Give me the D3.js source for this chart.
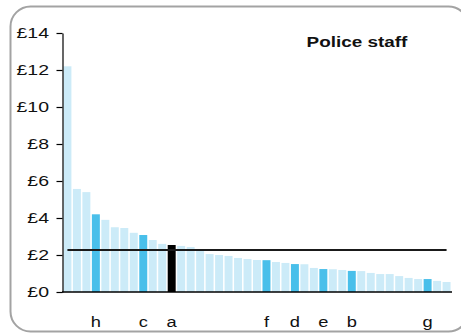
<!DOCTYPE html>
<html>
<head>
<meta charset="utf-8">
<script src="https://cdn.jsdelivr.net/npm/d3@7"></script>
<style>
  html, body { margin: 0; padding: 0; background: #fff; }
  svg { display: block; }
  text { font-family: Arial, "Liberation Sans", sans-serif; fill: #111; }
</style>
</head>
<body>
<svg id="chart" width="461" height="334"></svg>
<script>
// ---- data ----
const values = [12.2, 5.57, 5.4, 4.2, 3.9, 3.5, 3.46, 3.2, 3.08, 2.81, 2.6,
  2.54, 2.49, 2.43, 2.22, 2.05, 2.0, 1.95, 1.84, 1.78, 1.73, 1.72, 1.62, 1.57,
  1.51, 1.5, 1.3, 1.24, 1.23, 1.19, 1.14, 1.13, 1.03, 0.97, 0.97, 0.86, 0.76,
  0.7, 0.7, 0.6, 0.54];
const labels = ["", "", "", "h", "", "", "", "", "c", "", "", "a", "", "", "",
  "", "", "", "", "", "", "f", "", "", "d", "", "", "e", "", "", "b", "", "",
  "", "", "", "", "", "g", "", ""];
const highlightType = labels.map(l => l === "a" ? "focus" : (l ? "peer" : "other"));
const averageValue = [2.27];
const yTicks = [0, 2, 4, 6, 8, 10, 12, 14];
const title = "Police staff";

// ---- chart ----
const svg = d3.select("#chart");
const colors = { other: "#ccebf8", peer: "#49bfea", focus: "#000000" };

// frame
svg.append("rect")
  .attr("x", 10.5).attr("y", 6.5)
  .attr("width", 458).attr("height", 325)
  .attr("rx", 20).attr("ry", 20)
  .attr("fill", "none").attr("stroke", "#a3a3a3").attr("stroke-width", 2);

const x = d3.scaleBand()
  .domain(d3.range(values.length))
  .range([62.5, 451.5])
  .paddingInner(0.16)
  .paddingOuter(0.1);

const y = d3.scaleLinear().domain([0, 14]).range([292, 33]);

// bars
svg.append("g").selectAll("rect")
  .data(values)
  .join("rect")
  .attr("x", (d, i) => x(i))
  .attr("y", d => y(d))
  .attr("width", x.bandwidth())
  .attr("height", d => y(0) - y(d))
  .attr("fill", (d, i) => colors[highlightType[i]]);

// average line
svg.append("line")
  .attr("x1", x(0) + x.bandwidth() / 2)
  .attr("x2", x(values.length - 1) + x.bandwidth() / 2)
  .attr("y1", y(averageValue[0]))
  .attr("y2", y(averageValue[0]))
  .attr("stroke", "#1a1a1a").attr("stroke-width", 2);

// y axis
const yAxis = svg.append("g").attr("transform", "translate(62.5,0)")
  .call(d3.axisLeft(y).tickValues(yTicks).tickSize(6).tickSizeOuter(0).tickFormat(""));
yAxis.select(".domain").attr("stroke", "#000").attr("stroke-width", 1.2);
yAxis.selectAll(".tick line").attr("stroke", "#000").attr("stroke-width", 1.2);

svg.append("g").selectAll("text")
  .data(yTicks)
  .join("text")
  .attr("transform", d => `translate(49,${y(d)}) scale(1.3,1)`)
  .attr("text-anchor", "end")
  .attr("dy", "0.36em")
  .attr("font-size", 15)
  .text(d => "£" + d);

// x baseline
svg.append("line")
  .attr("x1", 62).attr("x2", 452)
  .attr("y1", y(0)).attr("y2", y(0))
  .attr("stroke", "#000").attr("stroke-width", 1.5);

// category labels
svg.append("g").selectAll("text")
  .data(labels.map((l, i) => ({ l, i })).filter(d => d.l))
  .join("text")
  .attr("transform", d => `translate(${x(d.i) + x.bandwidth() / 2},327) scale(1.22,1)`)
  .attr("text-anchor", "middle")
  .attr("font-size", 15)
  .text(d => d.l);

// title
svg.append("text")
  .attr("transform", "translate(357,47) scale(1.22,1)")
  .attr("text-anchor", "middle")
  .attr("font-size", 15.5)
  .attr("font-weight", "bold")
  .text(title);
</script>
</body>
</html>
